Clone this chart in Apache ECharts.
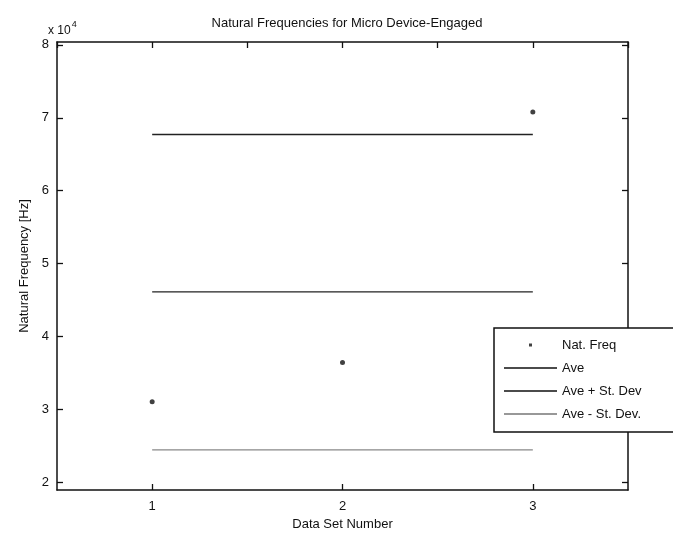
<!DOCTYPE html>
<html>
<head>
<meta charset="utf-8">
<script src="https://cdn.jsdelivr.net/npm/echarts@6/dist/echarts.min.js"></script>
<style>html,body{margin:0;padding:0;background:#fff}#c{width:673px;height:540px}</style>
</head>
<body>
<div id="c"></div>
<script>
var dataSets = [1, 2, 3];
var natFreq = [31000, 36400, 70800];
var aveVal = 46100;
var avePlus = 67700;
var aveMinus = 24400;
var yTicks = [20000, 30000, 40000, 50000, 60000, 70000, 80000];
var xTicks = [1, 2, 3];

var FONT = 'Liberation Sans, Arial, sans-serif';
var chart = echarts.init(document.getElementById('c'), null, {renderer: 'canvas'});

var natPts = dataSets.map(function (x, i) { return [x, natFreq[i]]; });
function hline(v) { return [[dataSets[0], v], [dataSets[dataSets.length - 1], v]]; }

var dotIcon = 'path://M0,0Z M25,5.5 L28,5.5 L28,8.5 L25,8.5 Z M53,14Z';
var lineIcon = 'path://M0,0Z M0,6.2 L53,6.2 L53,7.8 L0,7.8 Z M53,14Z';

var axisLineStyle = {color: '#111', width: 1.5};
chart.setOption({
  animation: false,
  backgroundColor: '#fff',
  title: {
    text: 'Natural Frequencies for Micro Device-Engaged',
    left: 342, top: 12, textAlign: 'center',
    textStyle: {fontFamily: FONT, fontSize: 13, fontWeight: 'normal', color: '#111'}
  },
  graphic: [{
    type: 'text', left: 48, top: 20,
    style: {
      text: '{a|x 10}{b|4}',
      rich: {
        a: {fontFamily: FONT, fontSize: 12, fill: '#111', padding: [6, 0, 0, 0]},
        b: {fontFamily: FONT, fontSize: 9, fill: '#111', padding: [0, 0, 6, 1]}
      }
    }
  }],
  grid: {left: 57, right: 45, top: 42, bottom: 50, show: false},
  legend: {
    orient: 'vertical', left: 494, top: 328,
    backgroundColor: '#fff', borderColor: '#111', borderWidth: 1.5,
    padding: [10, 60, 11, 10], itemGap: 9, itemWidth: 53, itemHeight: 14,
    textStyle: {fontFamily: FONT, fontSize: 13, color: '#111'},
    data: [
      {name: 'Nat. Freq', icon: dotIcon, itemStyle: {color: '#111'}},
      {name: 'Ave', icon: lineIcon, itemStyle: {color: '#111'}},
      {name: 'Ave + St. Dev', icon: lineIcon, itemStyle: {color: '#111'}},
      {name: 'Ave - St. Dev.', icon: lineIcon, itemStyle: {color: '#777'}}
    ]
  },
  xAxis: [{
    type: 'value', min: 0.5, max: 3.5, position: 'bottom',
    name: 'Data Set Number', nameLocation: 'middle', nameGap: 28,
    nameTextStyle: {fontFamily: FONT, fontSize: 13, color: '#111'},
    axisLine: {show: true, lineStyle: axisLineStyle},
    axisTick: {show: true, inside: true, length: 6, lineStyle: {color: '#111', width: 1.3}, customValues: xTicks},
    axisLabel: {fontFamily: FONT, fontSize: 13, color: '#111', margin: 10, customValues: xTicks},
    splitLine: {show: false}
  }, {
    type: 'value', min: 0.5, max: 3.5, position: 'top', interval: 0.5,
    axisLine: {show: true, lineStyle: axisLineStyle},
    axisTick: {show: true, inside: true, length: 6, lineStyle: {color: '#111', width: 1.3}},
    axisLabel: {show: false}, splitLine: {show: false}
  }],
  yAxis: [{
    type: 'value', min: 18900, max: 80400, position: 'left',
    name: 'Natural Frequency [Hz]', nameLocation: 'middle', nameGap: 26,
    nameTextStyle: {fontFamily: FONT, fontSize: 13, color: '#111'},
    axisLine: {show: true, lineStyle: axisLineStyle},
    axisTick: {show: true, inside: true, length: 6, lineStyle: {color: '#111', width: 1.3}, customValues: yTicks},
    axisLabel: {fontFamily: FONT, fontSize: 13, color: '#111', margin: 8, customValues: yTicks,
      formatter: function (v) { return String(v / 10000); }},
    splitLine: {show: false}
  }, {
    type: 'value', min: 18900, max: 80400, position: 'right',
    axisLine: {show: true, lineStyle: axisLineStyle},
    axisTick: {show: true, inside: true, length: 6, lineStyle: {color: '#111', width: 1.3}, customValues: yTicks},
    axisLabel: {show: false}, splitLine: {show: false}
  }],
  series: [
    {name: 'Nat. Freq', type: 'scatter', data: natPts, symbol: 'circle', symbolSize: 5,
      itemStyle: {color: '#111'}, z: 5},
    {name: 'Ave', type: 'line', data: hline(aveVal), showSymbol: false, symbol: 'none',
      lineStyle: {color: '#222', width: 1.4}, itemStyle: {color: '#222'}},
    {name: 'Ave + St. Dev', type: 'line', data: hline(avePlus), showSymbol: false, symbol: 'none',
      lineStyle: {color: '#222', width: 1.4}, itemStyle: {color: '#222'}},
    {name: 'Ave - St. Dev.', type: 'line', data: hline(aveMinus), showSymbol: false, symbol: 'none',
      lineStyle: {color: '#888', width: 1.3}, itemStyle: {color: '#888'}}
  ]
});
</script>
</body>
</html>
